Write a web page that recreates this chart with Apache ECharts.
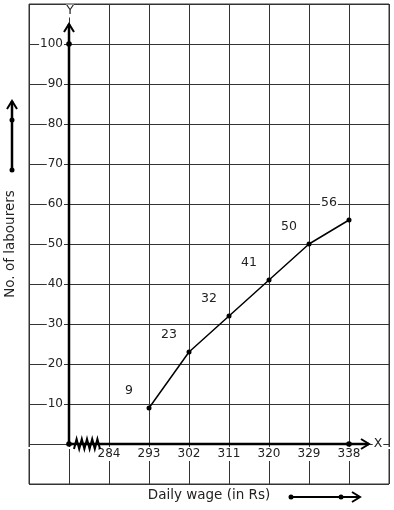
<!DOCTYPE html>
<html>
<head>
<meta charset="utf-8">
<script src="https://cdn.jsdelivr.net/npm/echarts@6/dist/echarts.min.js"></script>
<style>html,body{margin:0;padding:0;background:#fff}#c{width:394px;height:510px}</style>
</head>
<body>
<div id="c"></div>
<script>
// ---- data ----
const wages = [293, 302, 311, 320, 329, 338];
const labourers = [9, 23, 32, 41, 50, 56];
const xTickLabels = [284, 293, 302, 311, 320, 329, 338];
const yTickLabels = [10, 20, 30, 40, 50, 60, 70, 80, 90, 100];
const ORIGIN = 275; // wage value placed at the Y axis (after the break)
const STEP = 9;

const FONT = 'DejaVu Sans';
const chart = echarts.init(document.getElementById('c'), null, {renderer: 'canvas'});

const seriesData = wages.map((w, i) => [w - ORIGIN, labourers[i]]);
const hiddenLine = {show: true, onZero: false, lineStyle: {color: 'rgba(0,0,0,0)', width: 1}};

chart.setOption({
  animation: false,
  backgroundColor: '#fff',
  textStyle: {fontFamily: FONT},
  grid: {left: 29, top: 4, right: 5, bottom: 26, show: true, borderColor: '#333', borderWidth: 1,
         containLabel: false, outerBoundsMode: 'none'},
  xAxis: {
    type: 'value', min: -STEP, max: 8 * STEP, interval: STEP,
    position: 'bottom', offset: -40,
    axisLine: hiddenLine,
    axisTick: {show: false},
    splitLine: {show: true, lineStyle: {color: '#333', width: 1}},
    axisLabel: {
      fontFamily: FONT, fontSize: 12, color: '#222', margin: 3,
      backgroundColor: '#fff', padding: [1, 1],
      showMinLabel: true, showMaxLabel: true,
      formatter: v => xTickLabels.includes(Math.round(v) + ORIGIN) ? String(Math.round(v) + ORIGIN) : ''
    },
    name: 'Daily wage (in Rs)', nameLocation: 'middle', nameGap: 44,
    nameTextStyle: {fontFamily: FONT, fontSize: 13.5, color: '#222'}
  },
  yAxis: {
    type: 'value', min: -10, max: 110, interval: 10,
    position: 'left', offset: -40,
    axisLine: hiddenLine,
    axisTick: {show: false},
    splitLine: {show: true, lineStyle: {color: '#333', width: 1}},
    axisLabel: {
      fontFamily: FONT, fontSize: 12, color: '#222', margin: 5,
      backgroundColor: '#fff', padding: [0, 1],
      showMinLabel: true, showMaxLabel: true,
      formatter: v => yTickLabels.includes(Math.round(v)) ? String(Math.round(v)) : ''
    },
    name: 'No. of labourers', nameLocation: 'middle', nameGap: 52, nameRotate: 90,
    nameTextStyle: {fontFamily: FONT, fontSize: 13.5, color: '#222'}
  },
  series: [{
    type: 'line',
    data: seriesData,
    symbol: 'circle', symbolSize: 5,
    lineStyle: {color: '#000', width: 1.5},
    itemStyle: {color: '#000'},
    label: {
      show: true, position: 'inside', offset: [-20, -17],
      fontFamily: FONT, fontSize: 12.5, color: '#222',
      backgroundColor: '#fff', padding: [0, 1],
      formatter: p => String(p.value[1])
    },
    z: 5
  }]
});

// ---- decorations: axes, arrows, break ----
const px = (x, y) => chart.convertToPixel({gridIndex: 0}, [x, y]);
const o = px(0, 0);
const yTop = px(0, 105);
const y100 = px(0, 100);
const xLast = px(wages[wages.length - 1] - ORIGIN, 0);
const blk = {stroke: '#000', lineWidth: 2.5};
const thin = {stroke: '#000', lineWidth: 2, fill: null};
const g = [];
// Y axis
g.push({type: 'line', shape: {x1: o[0], y1: o[1], x2: yTop[0], y2: yTop[1]}, style: blk, z: 10});
g.push({type: 'polyline', shape: {points: [[yTop[0] - 5, yTop[1] + 8], [yTop[0], yTop[1]], [yTop[0] + 5, yTop[1] + 8]]}, style: thin, z: 10});
// X axis
const xe = [369, o[1]];
g.push({type: 'line', shape: {x1: o[0], y1: o[1], x2: xe[0], y2: xe[1]}, style: blk, z: 10});
g.push({type: 'polyline', shape: {points: [[xe[0] - 8, xe[1] - 5], [xe[0], xe[1]], [xe[0] - 8, xe[1] + 5]]}, style: thin, z: 10});
// dots
[[o[0], o[1]], [y100[0], y100[1]], [xLast[0], xLast[1]]].forEach(p =>
  g.push({type: 'circle', shape: {cx: p[0], cy: p[1], r: 2.8}, style: {fill: '#000'}, z: 11}));
// axis letters
g.push({type: 'text', x: yTop[0] + 1, y: 11, style: {text: 'Y', font: '12.5px "DejaVu Sans"', fill: '#222', align: 'center', verticalAlign: 'middle', backgroundColor: '#fff'}, z: 12});
g.push({type: 'text', x: 378, y: o[1], style: {text: 'X', font: '12.5px "DejaVu Sans"', fill: '#222', align: 'center', verticalAlign: 'middle', backgroundColor: '#fff', padding: [0, 1]}, z: 12});
// axis break zigzag
const zz = [];
for (let i = 0; i <= 10; i++) zz.push([o[0] + 5 + i * 2.6, o[1] + (i % 2 ? -5 : 5)]);
g.push({type: 'polyline', shape: {points: zz}, style: {stroke: '#000', lineWidth: 2, fill: null}, z: 10});
// left arrow
g.push({type: 'line', shape: {x1: 12, y1: 170, x2: 12, y2: 101}, style: blk, z: 10});
g.push({type: 'polyline', shape: {points: [[7, 109], [12, 101], [17, 109]]}, style: thin, z: 10});
[[12, 120], [12, 170]].forEach(p => g.push({type: 'circle', shape: {cx: p[0], cy: p[1], r: 2.5}, style: {fill: '#000'}, z: 11}));
// bottom arrow
g.push({type: 'line', shape: {x1: 291, y1: 497, x2: 360, y2: 497}, style: {stroke: '#000', lineWidth: 2}, z: 10});
g.push({type: 'polyline', shape: {points: [[352, 492], [360, 497], [352, 502]]}, style: thin, z: 10});
[[291, 497], [341, 497]].forEach(p => g.push({type: 'circle', shape: {cx: p[0], cy: p[1], r: 2.5}, style: {fill: '#000'}, z: 11}));
chart.setOption({graphic: g});
</script>
</body>
</html>
